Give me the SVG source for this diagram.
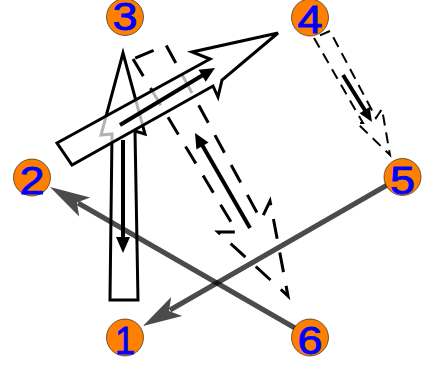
<svg xmlns="http://www.w3.org/2000/svg" width="425" height="365" viewBox="0 0 425 365">
<style>
.fancy{fill:#fff;fill-opacity:0.7;stroke:#000;stroke-width:3;stroke-linejoin:miter}
.dash1{stroke-dasharray:20,14}
.dash2{stroke-width:2;stroke-dasharray:11,7}
.shaft{stroke:#000;stroke-width:4;fill:none}
.head{fill:#000}
.grey{opacity:0.7}
.node circle{fill:#ff8000;stroke:#000;stroke-opacity:0.55;stroke-width:1}
.node text{font-family:"Liberation Sans",Arial,sans-serif;font-size:39px;fill:#0000ff;stroke:#0000ff;stroke-width:0.9;text-anchor:middle}
</style>
<g id="connectors">
  <g id="e1-3">
    <polygon class="fancy" points="123,53 145,134 135,131 138,300 110,300 112,134 101,135"/>
    <line class="shaft" x1="123" y1="140" x2="123" y2="240"/>
    <polygon class="head" points="123,253 116,237 130,237"/>
  </g>
  <g id="e3-6">
    <polygon class="fancy dash1" points="133,59 237,232 218,232 288,296 270,201 261,220 166,45"/>
    <line class="shaft" x1="250" y1="228" x2="201" y2="143"/>
    <polygon class="head" points="195,133 208.6,142.5 196.4,149.5"/>
  </g>
  <g id="e4-5">
    <polygon class="fancy dash2" points="314,38 363,123 357,123 390,155 382,109 376,118 330,31"/>
    <line class="shaft" x1="343" y1="75" x2="366" y2="112"/>
    <polygon class="head" points="372,122 369.7,107 359.5,113.3"/>
  </g>
  <g id="e2-4">
    <polygon class="fancy" points="57,143 210,59 192,52 278,33 222,80 218,97 213,86 72,165"/>
    <line class="shaft" x1="120" y1="125" x2="203" y2="75"/>
    <polygon class="head" points="215,68 205.7,81.7 198.5,69.7"/>
  </g>
  <g id="e5-1" class="grey">
    <line x1="389" y1="184" x2="170" y2="310" stroke="#000" stroke-width="5"/>
    <polygon points="143,326 171.2,297 169,311 182.2,316" fill="#000"/>
  </g>
  <g id="e6-2" class="grey">
    <line x1="295" y1="328" x2="78" y2="203" stroke="#000" stroke-width="5"/>
    <polygon points="50,187 90.2,197.4 76.9,202.5 79.2,216.5" fill="#000"/>
  </g>
</g>
<g id="node1" class="node"><circle cx="125" cy="337.5" r="18.5"/><text x="125" y="354" textLength="20" lengthAdjust="spacingAndGlyphs">1</text></g>
<g id="node2" class="node"><circle cx="32" cy="177.5" r="18.5"/><text x="32" y="194" textLength="25" lengthAdjust="spacingAndGlyphs">2</text></g>
<g id="node3" class="node"><circle cx="125" cy="17" r="18.5"/><text x="125" y="30" textLength="25" lengthAdjust="spacingAndGlyphs">3</text></g>
<g id="node4" class="node"><circle cx="310" cy="17.5" r="18.5"/><text x="310" y="33" textLength="25" lengthAdjust="spacingAndGlyphs">4</text></g>
<g id="node5" class="node"><circle cx="402.5" cy="177" r="18.5"/><text x="402.5" y="194" textLength="25" lengthAdjust="spacingAndGlyphs">5</text></g>
<g id="node6" class="node"><circle cx="310" cy="337.5" r="18.5"/><text x="310" y="353.5" textLength="25" lengthAdjust="spacingAndGlyphs">6</text></g>
</svg>
